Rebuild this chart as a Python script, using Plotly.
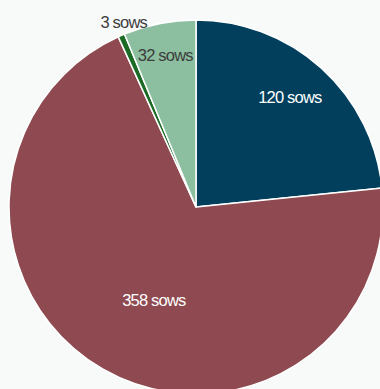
import math
import plotly.graph_objects as go

labels = ["120 sows", "358 sows", "3 sows", "32 sows"]
values = [120, 358, 3, 32]
colors = ["#013f5d", "#8e4a50", "#1b6a25", "#8bbfa0"]
text_colors = ["#ffffff", "#ffffff", "#3c3c3c", "#3c3c3c"]
# label placement style: (angle offset in degrees, radius fraction)
label_offsets = [(-1.7, 0.779), (-5.5, 0.542), (2.3, 1.068), (0.0, 0.834)]

W, H = 400, 420
cx, cy, r = 196, 207, 187
FONT = "Liberation Sans, Arial, sans-serif"

fig = go.Figure(
    go.Pie(
        labels=labels,
        values=values,
        textinfo="none",
        marker=dict(colors=colors, line=dict(color="#ffffff", width=1.5)),
        sort=False,
        direction="clockwise",
        rotation=0,
        showlegend=False,
        hoverinfo="none",
        domain=dict(x=[(cx - r) / W, (cx + r) / W], y=[1 - (cy + r) / H, 1 - (cy - r) / H]),
    )
)

total = sum(values)
cum = 0.0
annotations = []
for lab, v, tc, (da, rf) in zip(labels, values, text_colors, label_offsets):
    mid = (cum + v / 2) / total * 360 + da
    cum += v
    px = cx + rf * r * math.sin(math.radians(mid))
    py = cy - rf * r * math.cos(math.radians(mid)) + 1
    annotations.append(
        dict(
            x=px / W, y=1 - py / H, xref="paper", yref="paper",
            text=lab, showarrow=False, xanchor="center", yanchor="middle",
            font=dict(family=FONT, size=16.5, color=tc),
        )
    )

fig.update_layout(
    width=W,
    height=H,
    margin=dict(l=0, r=0, t=0, b=0),
    paper_bgcolor="#f8fafa",
    plot_bgcolor="#f8fafa",
    annotations=annotations,
)
fig.write_html(
    "out.html",
    config={"displayModeBar": False},
    post_script=(
        "document.body.style.margin='0';document.body.style.overflow='hidden';"
        "document.documentElement.style.overflow='hidden';"
        "document.querySelectorAll('.annotation-text').forEach(function(e){e.style.letterSpacing='-0.8px';});"
    ),
)
